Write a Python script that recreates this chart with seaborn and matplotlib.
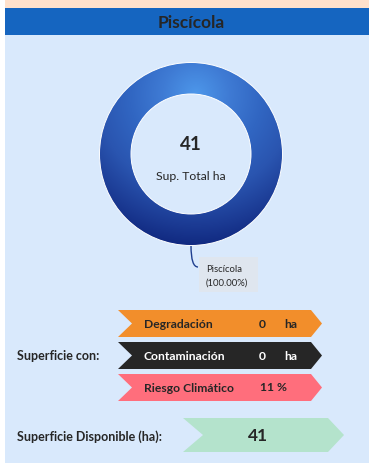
import numpy as np
import matplotlib
matplotlib.use("Agg")
import matplotlib.pyplot as plt
import seaborn as sns
from matplotlib.patches import Rectangle, Polygon, PathPatch, Circle
from matplotlib.path import Path

# datos
titulo = "Piscícola"
pie_labels = ["Piscícola"]
pie_values = [41]
sup_total = 41
riesgos = ["Degradación", "Contaminación", "Riesgo Climático"]
riesgo_valores = ["0", "0", "11 %"]
riesgo_unidades = ["ha", "ha", ""]
sup_disponible = 41

riesgo_colores = ["#F28E2B", "#262626", "#FF6E7C"]
riesgo_txt = ["#262626", "white", "#262626"]

sns.set_style("white")
plt.rcParams['font.family'] = ['Lato', 'DejaVu Sans']
dark = "#262626"

W, H = 369, 464
fig = plt.figure(figsize=(W / 100, H / 100), dpi=100)
fig.patch.set_facecolor("white")
ax = fig.add_axes([0, 0, 1, 1])
ax.set_xlim(0, W)
ax.set_ylim(H, 0)
ax.axis("off")

# fondos
ax.add_patch(Rectangle((5, 0), W - 5, 9, color="#FFE1CC", lw=0))
ax.add_patch(Rectangle((5, 9), W - 5, 27, color="#1565C0", lw=0))
ax.add_patch(Rectangle((5, 36), W - 5, H - 36, color="#D9E9FC", lw=0))
ax.text(191, 23, titulo, ha="center", va="center", fontsize=12.5,
        fontweight="bold", color=dark)

# donut
cx, cy, size = 191, 155, 200
axd = fig.add_axes([(cx - size / 2) / W, 1 - (cy + size / 2) / H, size / W, size / H])
wedges, _ = axd.pie(pie_values, radius=91.5, startangle=-90,
                    wedgeprops=dict(width=31.5, lw=0, facecolor="none"))
axd.set_xlim(-100, 100)
axd.set_ylim(-100, 100)
axd.axis("off")
cmap = sns.blend_palette(["#4D97EA", "#3F7BD4", "#3166C2", "#2A55B0", "#1B3A93", "#0A1E74"],
                         as_cmap=True)
gx, gy = np.meshgrid(np.linspace(-100, 100, 400), np.linspace(-100, 100, 400))
dist = np.hypot(gx - 5, gy - 60) / 165
im = axd.imshow(np.clip(dist, 0, 1), extent=(-100, 100, -100, 100), origin="lower",
                cmap=cmap, vmin=0, vmax=1, zorder=0)
im.set_clip_path(wedges[0])
axd.add_patch(Circle((0, 0), 91.5, fc="none", ec="white", lw=0.7, zorder=3))
axd.add_patch(Circle((0, 0), 60, fc="none", ec="white", lw=0.7, zorder=3))

ax.text(191, 145, str(sup_total), ha="center", va="center", fontsize=13.5,
        fontweight="bold", color=dark)
ax.text(191, 177, "Sup. Total ha", ha="center", va="center", fontsize=8.8, color=dark)

# etiqueta del pie
pct = 100 * pie_values[0] / sum(pie_values)
lead = Path([(191, 247), (191, 268), (198, 268)], [Path.MOVETO, Path.CURVE3, Path.CURVE3])
ax.add_patch(PathPatch(lead, fc="none", ec="#1F3F8F", lw=1))
ax.add_patch(Rectangle((199, 258), 59, 35, color="#DFE6EF", lw=0))
ax.text(206, 270, pie_labels[0], ha="left", va="center", fontsize=6.8, color=dark)
ax.text(206, 283, f"({pct:.2f}%)", ha="left", va="center", fontsize=6.8, color=dark)


def chevron(x0, x1, y0, y1, notch, tip, color):
    ym = (y0 + y1) / 2
    pts = [(x0, y0), (x1 - tip, y0), (x1, ym), (x1 - tip, y1), (x0, y1), (x0 + notch, ym)]
    ax.add_patch(Polygon(pts, closed=True, color=color, lw=0))


tops = [311, 343, 375]
for i, name in enumerate(riesgos):
    y0 = tops[i]
    chevron(118, 322, y0, y0 + 27, 14, 11, riesgo_colores[i])
    ym = y0 + 13.5
    ax.text(144, ym, name, ha="left", va="center", fontsize=8.7, fontweight="bold",
            color=riesgo_txt[i])
    if riesgo_unidades[i]:
        ax.text(262, ym, riesgo_valores[i], ha="center", va="center", fontsize=8.7,
                fontweight="bold", color=riesgo_txt[i])
        ax.text(291, ym, riesgo_unidades[i], ha="center", va="center", fontsize=8.7,
                fontweight="bold", color=riesgo_txt[i])
    else:
        ax.text(274, ym - 1, riesgo_valores[i], ha="center", va="center", fontsize=8.7,
                fontweight="bold", color=riesgo_txt[i])

ax.text(17, 356, "Superficie con:", ha="left", va="center", fontsize=9,
        fontweight="bold", color=dark)

chevron(183, 344, 419, 453, 20, 16, "#B4E3CC")
ax.text(258, 436, str(sup_disponible), ha="center", va="center", fontsize=12.5,
        fontweight="bold", color=dark)
ax.text(17, 437, "Superficie Disponible (ha):", ha="left", va="center", fontsize=9,
        fontweight="bold", color=dark)

fig.savefig("out.png", dpi=100, facecolor=fig.get_facecolor())
